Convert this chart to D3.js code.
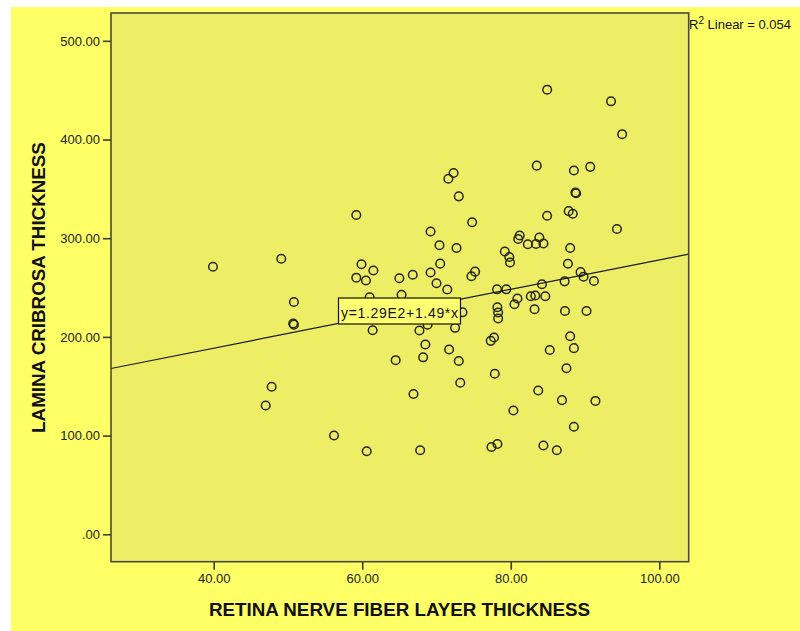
<!DOCTYPE html>
<html>
<head>
<meta charset="utf-8">
<script src="https://cdn.jsdelivr.net/npm/d3@7"></script>
<style>
  body { margin: 0; background: #fff; }
  text { font-family: "Liberation Sans", Arial, sans-serif; }
</style>
</head>
<body>
<div id="chart"></div>
<script>
// RNFL thickness (x) vs lamina cribrosa thickness (y)
var rnfl = [39.9, 49.1, 50.8, 50.7, 50.8, 47.8, 47.0, 56.2, 60.6, 61.4,
  64.5, 59.2, 59.9, 61.5, 59.2, 60.5, 65.0, 61.0, 65.3, 66.8,
  69.2, 69.2, 67.7, 68.8, 68.5, 68.2, 66.9, 67.8, 84.9, 93.5,
  95.0, 83.5, 88.5, 90.7, 71.6, 72.3, 73.0, 88.7, 88.8, 74.8,
  84.9, 87.8, 88.35, 94.3, 70.4, 72.7, 81.2, 81.0, 82.3, 83.4,
  83.85, 84.4, 88.0, 79.2, 79.8, 79.9, 87.7, 70.5, 70.0, 71.45,
  74.7, 75.2, 89.4, 89.8, 91.2, 78.15, 79.4, 84.2, 87.25, 80.9,
  80.5, 82.7, 83.3, 84.65, 78.2, 83.2, 87.3, 90.2, 73.5, 72.5,
  78.3, 78.3, 77.3, 77.75, 71.7, 73.0, 77.85, 73.2, 80.35, 77.4,
  78.2, 88.0, 85.25, 88.5, 87.5, 83.7, 86.9, 91.4, 88.5, 84.4, 86.2];
var lamina = [271.1, 279.2, 235.4, 213.6, 212.4, 149.5, 130.5, 100.1, 84.1, 206.7,
  176.4, 323.5, 273.6, 267.3, 260.0, 257.1, 259.4, 240.2, 242.7, 263.0,
  265.2, 306.8, 206.5, 212.3, 192.3, 179.3, 142.1, 85.1, 450.5, 438.7,
  405.4, 373.5, 368.6, 372.3, 360.2, 366.1, 342.4, 346.3, 345.6, 316.2,
  322.8, 327.4, 324.8, 309.3, 292.9, 290.1, 302.7, 299.2, 293.9, 294.1,
  300.7, 294.6, 290.1, 286.5, 281.0, 275.4, 274.1, 274.2, 254.4, 248.0,
  261.4, 266.1, 265.6, 261.0, 256.6, 248.2, 248.2, 253.3, 256.3, 238.9,
  233.1, 241.2, 241.9, 241.2, 230.0, 228.0, 226.2, 226.2, 224.9, 209.2,
  224.7, 218.6, 196.0, 199.4, 187.2, 175.6, 162.7, 153.5, 125.4, 88.4,
  91.5, 200.6, 186.7, 188.6, 168.2, 145.7, 135.9, 135.1, 109.0, 90.0, 85.1];

var xTicks = [40, 60, 80, 100];
var yTicks = [0, 100, 200, 300, 400, 500];

// linear fit shown on the chart
var fitIntercept = 129;
var fitSlope = 1.49;
var fitLabel = "y=1.29E2+1.49*x";
var r2Value = "0.054";

var width = 800, height = 631;
var plotLeft = 111, plotRight = 688.7, plotTop = 13, plotBottom = 561.7;

var svg = d3.select("#chart").append("svg")
    .attr("width", width)
    .attr("height", height);

// outer yellow panel
svg.append("rect")
    .attr("x", 11).attr("y", 7)
    .attr("width", width - 11).attr("height", height - 7)
    .attr("fill", "#ffff66");

var x = d3.scaleLinear().domain([26.17, 103.96]).range([plotLeft, plotRight]);
var y = d3.scaleLinear().domain([-27.8, 528.2]).range([plotBottom, plotTop]);

function fmt(v) {
  var s = d3.format(".2f")(v);
  return s.replace(/^0\./, ".");
}

// plot area
svg.append("rect")
    .attr("x", plotLeft).attr("y", plotTop)
    .attr("width", plotRight - plotLeft).attr("height", plotBottom - plotTop)
    .attr("fill", "#eeee66");

// points
svg.append("g").selectAll("circle")
    .data(rnfl.map(function(d, i) { return [d, lamina[i]]; }))
    .enter()
    .append("circle")
    .attr("cx", function(d) { return x(d[0]); })
    .attr("cy", function(d) { return y(d[1]); })
    .attr("r", 4.3)
    .attr("fill", "none")
    .attr("stroke", "#262615")
    .attr("stroke-width", 1.5);

// fit line
var xd = x.domain();
svg.append("line")
    .attr("x1", x(xd[0])).attr("y1", y(fitIntercept + fitSlope * xd[0]))
    .attr("x2", x(xd[1])).attr("y2", y(fitIntercept + fitSlope * xd[1]))
    .attr("stroke", "#1a1a1a")
    .attr("stroke-width", 1.2);

// fit label box
var labelG = svg.append("g");
labelG.append("rect")
    .attr("x", 338.5).attr("y", 298)
    .attr("width", 122).attr("height", 26)
    .attr("fill", "#ffff70")
    .attr("stroke", "#111")
    .attr("stroke-width", 1.2);
labelG.append("text")
    .attr("x", 341).attr("y", 317.5)
    .attr("textLength", 117)
    .style("font-size", "14px")
    .attr("fill", "#111")
    .text(fitLabel);

// frame
svg.append("rect")
    .attr("x", plotLeft).attr("y", plotTop)
    .attr("width", plotRight - plotLeft).attr("height", plotBottom - plotTop)
    .attr("fill", "none")
    .attr("stroke", "#4a4a3a")
    .attr("stroke-width", 1.6);

// y axis
var yAxis = svg.append("g")
    .attr("transform", "translate(" + plotLeft + ",0)")
    .call(d3.axisLeft(y).tickValues(yTicks).tickFormat(fmt).tickSize(8).tickPadding(3));
yAxis.select(".domain").remove();
yAxis.selectAll("line").attr("stroke", "#3a3a2a").attr("stroke-width", 1.6);
yAxis.selectAll("text").style("font-size", "13px").attr("fill", "#222")
    .style("font-family", "'Liberation Sans', Arial, sans-serif");

// x axis
var xAxis = svg.append("g")
    .attr("transform", "translate(0," + plotBottom + ")")
    .call(d3.axisBottom(x).tickValues(xTicks).tickFormat(fmt).tickSize(8).tickPadding(4));
xAxis.select(".domain").remove();
xAxis.selectAll("line").attr("stroke", "#3a3a2a").attr("stroke-width", 1.6);
xAxis.selectAll("text").style("font-size", "13px").attr("fill", "#222")
    .style("font-family", "'Liberation Sans', Arial, sans-serif");

// axis titles
svg.append("text")
    .attr("x", 399.5).attr("y", 615.5)
    .attr("text-anchor", "middle")
    .style("font-size", "18.8px")
    .style("font-weight", "bold")
    .attr("fill", "#111")
    .text("RETINA NERVE FIBER LAYER THICKNESS");

svg.append("text")
    .attr("transform", "translate(45,287.5) rotate(-90)")
    .attr("text-anchor", "middle")
    .style("font-size", "18.8px")
    .style("font-weight", "bold")
    .attr("fill", "#111")
    .text("LAMINA CRIBROSA THICKNESS");

// R squared note
var r2 = svg.append("text")
    .attr("x", 689).attr("y", 29)
    .style("font-size", "13px")
    .attr("fill", "#111");
r2.append("tspan").text("R");
r2.append("tspan").attr("dy", -5).style("font-size", "10px").text("2");
r2.append("tspan").attr("dy", 5).text(" Linear = " + r2Value);
</script>
</body>
</html>
